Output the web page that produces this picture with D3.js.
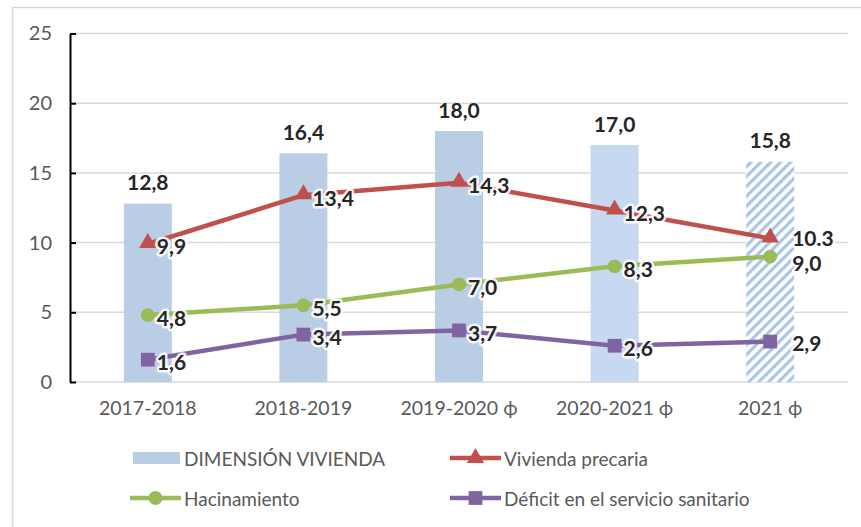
<!DOCTYPE html>
<html><head><meta charset="utf-8">
<script src="https://cdn.jsdelivr.net/npm/d3@7"></script>
<style>
body{margin:0;background:#fff;}
svg{display:block;font-family:Lato,"Open Sans",sans-serif;}
</style></head>
<body>
<svg id="chart" width="861" height="527"></svg>
<script>
const categories = ["2017-2018","2018-2019","2019-2020 ϕ","2020-2021 ϕ","2021 ϕ"];
const dimensionVivienda = [12.8,16.4,18.0,17.0,15.8];
const dimensionLabels = ["12,8","16,4","18,0","17,0","15,8"];
const viviendaPrecaria = [9.9,13.4,14.3,12.3,10.3];
const precariaLabels = ["9,9","13,4","14,3","12,3","10.3"];
const hacinamiento = [4.8,5.5,7.0,8.3,9.0];
const hacinamientoLabels = ["4,8","5,5","7,0","8,3","9,0"];
const deficitSanitario = [1.6,3.4,3.7,2.6,2.9];
const deficitLabels = ["1,6","3,4","3,7","2,6","2,9"];
const yTicks = [0,5,10,15,20,25];

const svg = d3.select("#chart");
const defs = svg.append("defs");
const pat = defs.append("pattern").attr("id","hatch").attr("patternUnits","userSpaceOnUse")
  .attr("width",7).attr("height",7).attr("patternTransform","rotate(45)");
pat.append("rect").attr("width",7).attr("height",7).attr("fill","#fff");
pat.append("rect").attr("x",0).attr("y",0).attr("width",3.2).attr("height",7).attr("fill","#a9c6e8");

svg.append("rect").attr("x",12.5).attr("y",7.5).attr("width",900).attr("height",600)
  .attr("fill","none").attr("stroke","#d9d9d9").attr("stroke-width",1.5);

const x = d3.scaleBand().domain(categories).range([70,848]);
const y = d3.scaleLinear().domain([0,25]).range([382,33.5]);

// gridlines
svg.append("g").selectAll("line").data(yTicks).join("line")
  .attr("x1",70).attr("x2",848).attr("y1",d=>y(d)).attr("y2",d=>y(d))
  .attr("stroke","#d9d9d9").attr("stroke-width",1.5);

// bars
const barW = 48;
const barFill = ["#b9cde5","#b9cde5","#b9cde5","#c6d9f1","url(#hatch)"];
svg.append("g").selectAll("rect").data(dimensionVivienda).join("rect")
  .attr("x",(d,i)=>x(categories[i])+x.bandwidth()/2-barW/2)
  .attr("width",barW)
  .attr("y",d=>y(d)).attr("height",d=>y(0)-y(d))
  .attr("fill",(d,i)=>barFill[i]);

// y axis
const yAxis = d3.axisLeft(y).tickValues(yTicks).tickSizeInner(-6).tickSizeOuter(0).tickPadding(18);
const ya = svg.append("g").attr("transform","translate(70,0)").call(yAxis);
ya.select(".domain").attr("stroke","#000").attr("stroke-width",2);
ya.selectAll(".tick line").attr("stroke","#000").attr("stroke-width",2);
ya.selectAll("text").attr("fill","#595959").style("font-size","20px").style("font-family","Lato");

// x labels
const xAxis = d3.axisBottom(x).tickSize(0).tickPadding(19);
const xa = svg.append("g").attr("transform","translate(0,382)").call(xAxis);
xa.select(".domain").remove();
xa.selectAll("text").attr("fill","#595959").style("font-size","19.5px").style("font-family","Lato");

const cx = c => x(c)+x.bandwidth()/2;

// bar labels
svg.append("g").selectAll("text").data(dimensionVivienda).join("text")
  .attr("x",(d,i)=>cx(categories[i])).attr("y",d=>y(d)-22)
  .attr("text-anchor","middle").attr("dominant-baseline","central")
  .attr("font-weight","bold").attr("font-size","21px").attr("fill","#262626")
  .text((d,i)=>dimensionLabels[i]);

const series = [
  {vals:viviendaPrecaria, labels:precariaLabels, color:"#c0504d", marker:"triangle", dyLast:-1},
  {vals:hacinamiento, labels:hacinamientoLabels, color:"#9bbb59", marker:"circle", dyLast:6},
  {vals:deficitSanitario, labels:deficitLabels, color:"#8064a2", marker:"square", dyLast:1}
];
const symOf = m => m==="triangle"?d3.symbolTriangle:(m==="circle"?d3.symbolCircle:d3.symbolSquare);
const sizeOf = m => m==="triangle"?130:(m==="circle"?150:190);
const line = d3.line().x((d,i)=>cx(categories[i])).y(d=>y(d));
series.forEach(s=>{
  const g = svg.append("g");
  g.append("path").datum(s.vals).attr("d",line).attr("fill","none")
    .attr("stroke",s.color).attr("stroke-width",4.5).attr("stroke-linejoin","round");
  g.selectAll("path.m").data(s.vals).join("path").attr("class","m")
    .attr("transform",(d,i)=>`translate(${cx(categories[i])},${y(d)+(s.marker==="triangle"?-1:0)})`)
    .attr("d",d3.symbol().type(symOf(s.marker)).size(sizeOf(s.marker))).attr("fill",s.color);
});
series.forEach(s=>{
  svg.append("g").selectAll("text").data(s.vals).join("text")
    .attr("x",(d,i)=>cx(categories[i])+(i===4?22:9))
    .attr("y",(d,i)=>y(d)+(i===4?s.dyLast:2))
    .attr("dominant-baseline","central")
    .attr("font-weight","bold").attr("font-size","21px").attr("fill","#262626")
    .attr("stroke","#fff").attr("stroke-width",5).attr("stroke-linejoin","round")
    .attr("stroke-opacity",0.9).attr("paint-order","stroke")
    .text((d,i)=>s.labels[i]);
});

// legend
const lg = svg.append("g").style("font-size","19px").attr("fill","#595959");
lg.append("rect").attr("x",133).attr("y",452).attr("width",47).attr("height",12).attr("fill","#b9cde5");
lg.append("text").attr("x",184).attr("y",458).attr("dominant-baseline","central").text("DIMENSIÓN VIVIENDA");
const legItems = [
  {x:450, y:458, s:series[0], label:"Vivienda precaria"},
  {x:130, y:498, s:series[1], label:"Hacinamiento"},
  {x:450, y:498, s:series[2], label:"Déficit en el servicio sanitario"}
];
legItems.forEach(it=>{
  lg.append("line").attr("x1",it.x).attr("x2",it.x+51).attr("y1",it.y).attr("y2",it.y)
    .attr("stroke",it.s.color).attr("stroke-width",4.5);
  lg.append("path").attr("transform",`translate(${it.x+25.5},${it.y})`)
    .attr("d",d3.symbol().type(symOf(it.s.marker)).size(sizeOf(it.s.marker))).attr("fill",it.s.color);
  lg.append("text").attr("x",it.x+54).attr("y",it.y).attr("dominant-baseline","central").text(it.label);
});
</script>
</body></html>
